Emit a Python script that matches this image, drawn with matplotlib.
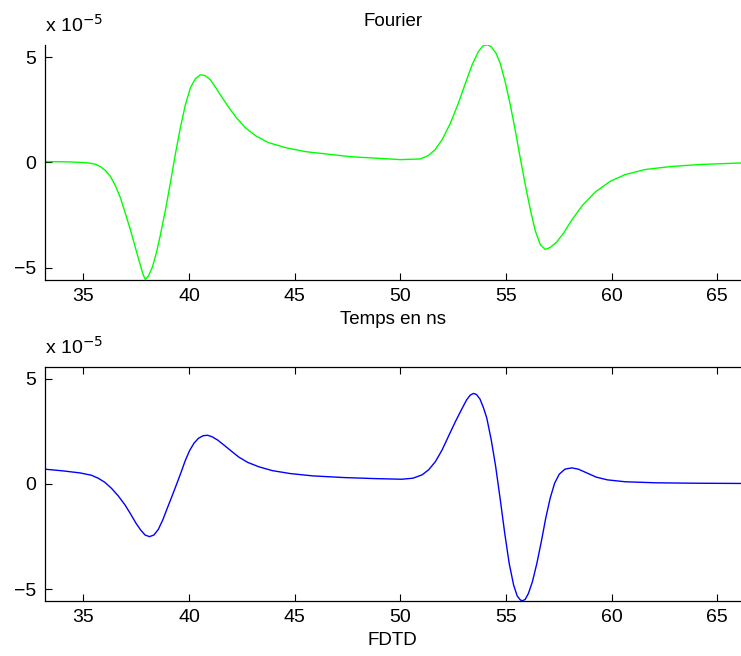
import numpy as np
import matplotlib
matplotlib.use("Agg")
import matplotlib.pyplot as plt

plt.rcParams['font.family'] = ['Liberation Sans', 'DejaVu Sans']

# ---------------- data (values in units of 1e-5) ----------------

t_fourier = [33.2, 34.39, 35.0, 35.33, 35.6, 35.8, 36.04, 36.28, 36.51, 36.75, 36.99, 37.22,
             37.46, 37.7, 37.84, 37.93, 38.07, 38.26, 38.45, 38.64, 38.88, 39.12,
             39.35, 39.59, 39.83, 40.07, 40.3, 40.54, 40.77, 41.01, 41.24, 41.48,
             41.86, 42.24, 42.66, 43.14, 43.75, 44.56, 45.5, 47.63, 50.0, 50.94,
             51.32, 51.65, 51.98, 52.36, 52.74, 53.07, 53.4, 53.69, 53.92, 54.11,
             54.3, 54.54, 54.73, 54.96, 55.2, 55.44, 55.67, 55.91, 56.15, 56.38,
             56.62, 56.85, 57.09, 57.38, 57.71, 58.13, 58.61, 59.22, 59.93, 60.64,
             61.58, 62.77, 64.19, 66.13]
v_fourier = [0.04, 0.02, -0.01, -0.04, -0.1, -0.2, -0.38, -0.66, -1.10, -1.67, -2.43, -3.18,
             -4.04, -4.89, -5.36, -5.55, -5.41, -4.99, -4.32, -3.47, -2.28, -0.96,
             0.37, 1.65, 2.74, 3.55, 3.97, 4.16, 4.11, 3.92, 3.59, 3.21,
             2.64, 2.12, 1.65, 1.27, 0.94, 0.70, 0.51, 0.27, 0.13, 0.16,
             0.32, 0.61, 1.08, 1.84, 2.79, 3.73, 4.64, 5.25, 5.54, 5.58,
             5.49, 5.16, 4.68, 3.83, 2.74, 1.51, 0.23, -1.05, -2.24, -3.23,
             -3.90, -4.13, -4.04, -3.80, -3.38, -2.71, -2.05, -1.41, -0.90, -0.58,
             -0.34, -0.20, -0.10, -0.03]

t_fdtd = [33.16, 34.01, 34.85, 35.38, 35.70, 36.01, 36.33, 36.65, 36.97, 37.24,
          37.49, 37.71, 37.92, 38.13, 38.34, 38.55, 38.76, 38.97, 39.19, 39.40,
          39.61, 39.82, 40.03, 40.24, 40.45, 40.67, 40.88, 41.09, 41.36, 41.66,
          42.0, 42.36, 42.78, 43.31, 43.94, 44.79, 45.85, 47.33, 48.81, 50.07,
          50.60, 51.03, 51.34, 51.66, 51.98, 52.29, 52.61, 52.93, 53.14, 53.31,
          53.46, 53.60, 53.77, 53.94, 54.09, 54.30, 54.51, 54.73, 54.94, 55.15,
          55.36, 55.53, 55.68, 55.78, 55.91, 56.06, 56.25, 56.46, 56.67, 56.88,
          57.09, 57.30, 57.52, 57.79, 58.11, 58.42, 58.78, 59.27, 59.80, 60.64,
          62.12, 64.03, 66.10]
v_fdtd = [0.70, 0.62, 0.52, 0.41, 0.27, 0.08, -0.21, -0.57, -1.0, -1.44,
          -1.87, -2.19, -2.43, -2.51, -2.43, -2.16, -1.71, -1.16, -0.60, -0.05,
          0.51, 1.10, 1.59, 1.94, 2.17, 2.29, 2.31, 2.24, 2.08, 1.84,
          1.56, 1.27, 1.02, 0.81, 0.63, 0.49, 0.38, 0.30, 0.25, 0.22,
          0.27, 0.43, 0.67, 1.06, 1.62, 2.29, 2.97, 3.60, 4.0, 4.22,
          4.30, 4.25, 4.03, 3.60, 3.13, 2.10, 0.83, -0.76, -2.35, -3.78,
          -4.81, -5.33, -5.52, -5.56, -5.49, -5.21, -4.65, -3.78, -2.75, -1.63,
          -0.68, 0.03, 0.46, 0.70, 0.76, 0.70, 0.54, 0.32, 0.19, 0.10,
          0.05, 0.03, 0.02]

x_ticks = [35, 40, 45, 50, 55, 60, 65]
y_ticks = [-5, 0, 5]

# ---------------- figure ----------------

fig = plt.figure(figsize=(7.41, 6.56), dpi=100)
ax1 = fig.add_axes([0.0603, 0.5736, 0.9397, 0.3578])
ax2 = fig.add_axes([0.0603, 0.0838, 0.9397, 0.3572])

ax1.plot(t_fourier, v_fourier, color='#00ff00', lw=1.0)
ax2.plot(t_fdtd, v_fdtd, color='#0000ff', lw=1.0)

for ax in (ax1, ax2):
    ax.set_xlim(33.17, 66.12)
    ax.set_ylim(-5.57, 5.57)
    ax.set_xticks(x_ticks)
    ax.set_yticks(y_ticks)
    ax.set_yticklabels(['\u22125', '0', '5'])
    ax.tick_params(direction='in', length=5, width=0.8, labelsize=14, pad=6)
    ax.spines['right'].set_visible(False)
    for s in ax.spines.values():
        s.set_linewidth(0.9)
    ax.text(0.0, 1.04, r'x 10$^{-5}$',
            transform=ax.transAxes, fontsize=14, ha='left', va='bottom')

ax1.spines['top'].set_visible(False)
ax1.tick_params(top=False)
ax2.tick_params(top=True)

ax1.set_title('Fourier', fontsize=13.5, pad=14)
ax1.set_xlabel('Temps en ns', fontsize=13.5, labelpad=4)
ax2.set_xlabel('FDTD', fontsize=13.5, labelpad=4)

fig.savefig('out.png', dpi=100)
